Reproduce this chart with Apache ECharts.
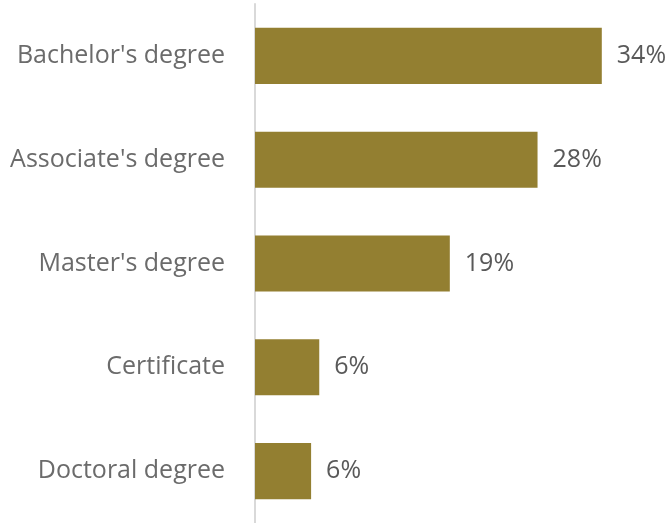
<!DOCTYPE html>
<html>
<head>
<meta charset="utf-8">
<script src="https://cdn.jsdelivr.net/npm/echarts@6/dist/echarts.min.js"></script>
<style>
  html, body { margin: 0; padding: 0; background: #fff; }
  #chart { width: 669px; height: 523px; }
</style>
</head>
<body>
<div id="chart"></div>
<script>
// Share of respondents by highest degree (percent)
const categories = ["Bachelor's degree", "Associate's degree", "Master's degree", "Certificate", "Doctoral degree"];
const shares = [34.0, 27.7, 19.1, 6.3, 5.5];

const chart = echarts.init(document.getElementById('chart'));
chart.setOption({
  animation: false,
  grid: { left: 255, right: 6, top: 4, bottom: 0, containLabel: false },
  xAxis: {
    type: 'value',
    min: 0,
    max: 40,
    show: false
  },
  yAxis: {
    type: 'category',
    data: categories,
    inverse: true,
    axisLine: { show: true, lineStyle: { color: '#d9d9d9', width: 2 } },
    axisTick: { show: false },
    axisLabel: {
      margin: 30,
      color: '#6b6b6b',
      fontFamily: 'Open Sans',
      fontSize: 25
    }
  },
  series: [{
    type: 'bar',
    data: shares,
    barCategoryGap: '46%',
    itemStyle: { color: '#937f31' },
    label: {
      show: true,
      position: 'right',
      distance: 15,
      color: '#595959',
      fontFamily: 'Open Sans',
      fontSize: 25,
      formatter: p => Math.round(p.value) + '%'
    }
  }]
});
</script>
</body>
</html>
